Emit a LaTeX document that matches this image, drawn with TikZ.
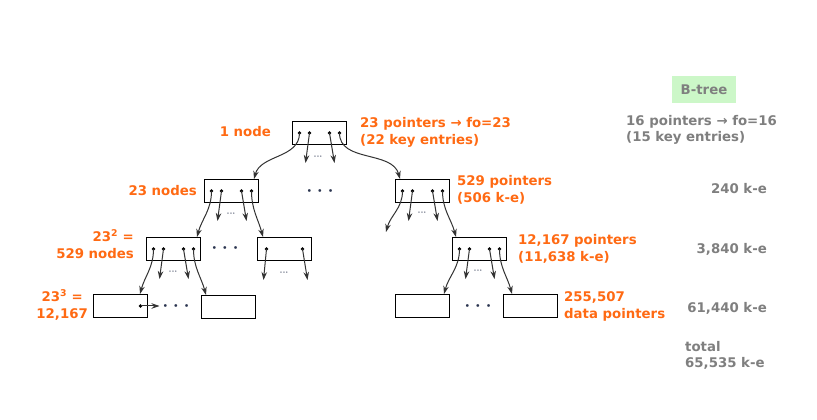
\documentclass[tikz,border=0pt]{standalone}
\usepackage{fontspec}
\setmainfont{DejaVu Sans}
\newfontfamily\arrowfont{DejaVu Sans}
\usepackage{xcolor}
\usetikzlibrary{arrows.meta,positioning}
\definecolor{btorange}{HTML}{FF6A13}
\definecolor{btgray}{HTML}{7F7F7F}
\definecolor{btgreen}{HTML}{CCF7C8}
\definecolor{btnavy}{HTML}{2B3550}
\tikzset{
  btbox/.style={draw=black, line width=1pt, minimum width=54pt, minimum height=23pt, inner sep=0pt},
  btptr/.style={circle, fill=black, inner sep=0pt, minimum size=3.8pt},
  btarr/.style={draw=black!80, line width=1pt, -{Stealth[length=8pt,width=5.5pt]}},
  btlabel/.style={text=btorange, font=\bfseries\fontsize{13.3}{16.5}\selectfont, inner sep=0pt, align=left},
  btnote/.style={text=btgray, font=\bfseries\fontsize{13.3}{16.5}\selectfont, inner sep=0pt, align=left},
  btdots/.style={text=btnavy, font=\fontsize{9.5}{9.5}\selectfont, inner sep=0pt},
  btsmall/.style={text=btnavy!70, font=\fontsize{5}{5}\selectfont, inner sep=0pt},
}
\begin{document}
\begin{tikzpicture}[x=1pt, y=1pt]
\useasboundingbox[fill=white] (0,0) rectangle (817,420);
% tree nodes
\node[btbox] (root) at (319.5,287) {};
\node[btbox] (l1a) at (231.5,229) {};
\node[btbox] (l1b) at (422.5,229) {};
\node[btbox] (l2a) at (173.5,171) {};
\node[btbox] (l2b) at (284.5,171) {};
\node[btbox] (l2c) at (479.5,171) {};
\node[btbox] (l3a) at (120.5,114) {};
\node[btbox] (l3b) at (228.5,113) {};
\node[btbox] (l3c) at (422.5,114) {};
\node[btbox] (l3d) at (530.5,114) {};
% pointers inside the boxes
\foreach \b in {root,l1a,l1b,l2a,l2c}{
  \foreach \i/\dx in {1/-20,2/-10,3/10,4/20}
    \node[btptr] (\b-\i) at ([xshift=\dx pt]\b.center) {};
  \coordinate (\b-2e) at ([shift={(-4,-30)}]\b-2.center);
  \coordinate (\b-3e) at ([shift={(5,-30)}]\b-3.center);
  \draw[btarr] (\b-2.center) -- (\b-2e);
  \draw[btarr] (\b-3.center) -- (\b-3e);
}
\node[btptr] (l2b-1) at ([xshift=-18pt]l2b.center) {};
\node[btptr] (l2b-2) at ([xshift=18pt]l2b.center) {};
\coordinate (l2b-1e) at ([shift={(-3,-31)}]l2b-1.center);
\coordinate (l2b-2e) at ([shift={(5,-31)}]l2b-2.center);
\draw[btarr] (l2b-1.center) -- (l2b-1e);
\draw[btarr] (l2b-2.center) -- (l2b-2e);
\node[btptr] (l3a-1) at ([xshift=20pt]l3a.center) {};
\coordinate (l3a-1e) at ([xshift=19pt]l3a-1.center);
\draw[btarr] (l3a-1.center) -- (l3a-1e);
% child links
\draw[btarr] (root-1.center) to[out=-90,in=75] ([xshift=-5pt]l1a.north east);
\draw[btarr] (root-4.center) to[out=-90,in=105] ([xshift=5pt]l1b.north west);
\draw[btarr] (l1a-1.center) to[out=-90,in=75] ([xshift=-4pt]l2a.north east);
\draw[btarr] (l1a-4.center) to[out=-90,in=105] ([xshift=6pt]l2b.north west);
\coordinate (l1b-1e) at (386,188);
\draw[btarr] (l1b-1.center) to[out=-90,in=75] (l1b-1e);
\draw[btarr] (l1b-4.center) to[out=-90,in=105] ([xshift=4pt]l2c.north west);
\draw[btarr] (l2a-1.center) to[out=-90,in=75] ([xshift=-8pt]l3a.north east);
\draw[btarr] (l2a-4.center) to[out=-90,in=105] ([xshift=5pt]l3b.north west);
\draw[btarr] (l2c-1.center) to[out=-90,in=75] ([xshift=-6pt]l3c.north east);
\draw[btarr] (l2c-4.center) to[out=-90,in=105] ([xshift=9pt]l3d.north west);
% elided nodes and pointers
\node[btdots] (gap1) at (320,228) {\textbullet\hspace{5pt}\textbullet\hspace{5pt}\textbullet};
\node[btdots] (gap2) at (225,171) {\textbullet\hspace{5pt}\textbullet\hspace{5pt}\textbullet};
\node[btdots] (gap3) at (176,113) {\textbullet\hspace{5pt}\textbullet\hspace{5pt}\textbullet};
\node[btdots] (gap4) at (478,113) {\textbullet\hspace{5pt}\textbullet\hspace{5pt}\textbullet};
\node[btsmall] (sm1) at (318,263) {\textbullet\textbullet\textbullet};
\node[btsmall] (sm2) at (231,206) {\textbullet\textbullet\textbullet};
\node[btsmall] (sm3) at (422,207) {\textbullet\textbullet\textbullet};
\node[btsmall] (sm4) at (173,148) {\textbullet\textbullet\textbullet};
\node[btsmall] (sm5) at (284,147) {\textbullet\textbullet\textbullet};
\node[btsmall] (sm6) at (478,149) {\textbullet\textbullet\textbullet};
% orange labels
\node[btlabel, anchor=east] (lbroot) at ([xshift=-21pt,yshift=1pt]root.west) {1 node};
\node[btlabel, anchor=west] (lbfo) at ([xshift=13pt,yshift=0.5pt]root.east) {23 pointers {\arrowfont\bfseries →} fo=23\\(22 key entries)};
\node[btlabel, anchor=east] (lbl1) at ([xshift=-7pt]l1a.west) {23 nodes};
\node[btlabel, anchor=west] (lbl1b) at ([xshift=7pt,yshift=1pt]l1b.east) {529 pointers\\(506 k-e)};
\node[btlabel, anchor=east, align=right] (lbl2) at ([xshift=-12pt,yshift=5pt]l2a.west) {23\textsuperscript{2} =\\529 nodes};
\node[btlabel, anchor=east, align=center] (lbl3) at ([xshift=-5pt,yshift=1pt]l3a.west) {23\textsuperscript{3} =\\12,167};
\node[btlabel, anchor=west] (lbl2c) at ([xshift=11pt]l2c.east) {12,167 pointers\\(11,638 k-e)};
\node[btlabel, anchor=west] (lbl3d) at ([xshift=6pt,yshift=-0.5pt]l3d.east) {255,507\\data pointers};
% b-tree column
\node[btnote, fill=btgreen, minimum width=64pt, minimum height=27pt, align=center] (btree) at (704,330.5) {B-tree};
\node[btnote, anchor=west] (btfo) at (626,290) {16 pointers {\arrowfont\bfseries →} fo=16\\(15 key entries)};
\node[btnote, anchor=east] (bt1) at (767,231) {240 k-e};
\node[btnote, anchor=east] (bt2) at (767,171) {3,840 k-e};
\node[btnote, anchor=east] (bt3) at (767,112) {61,440 k-e};
\node[btnote, anchor=west] (bttot) at (685,64.5) {total\\65,535 k-e};
\end{tikzpicture}
\end{document}
